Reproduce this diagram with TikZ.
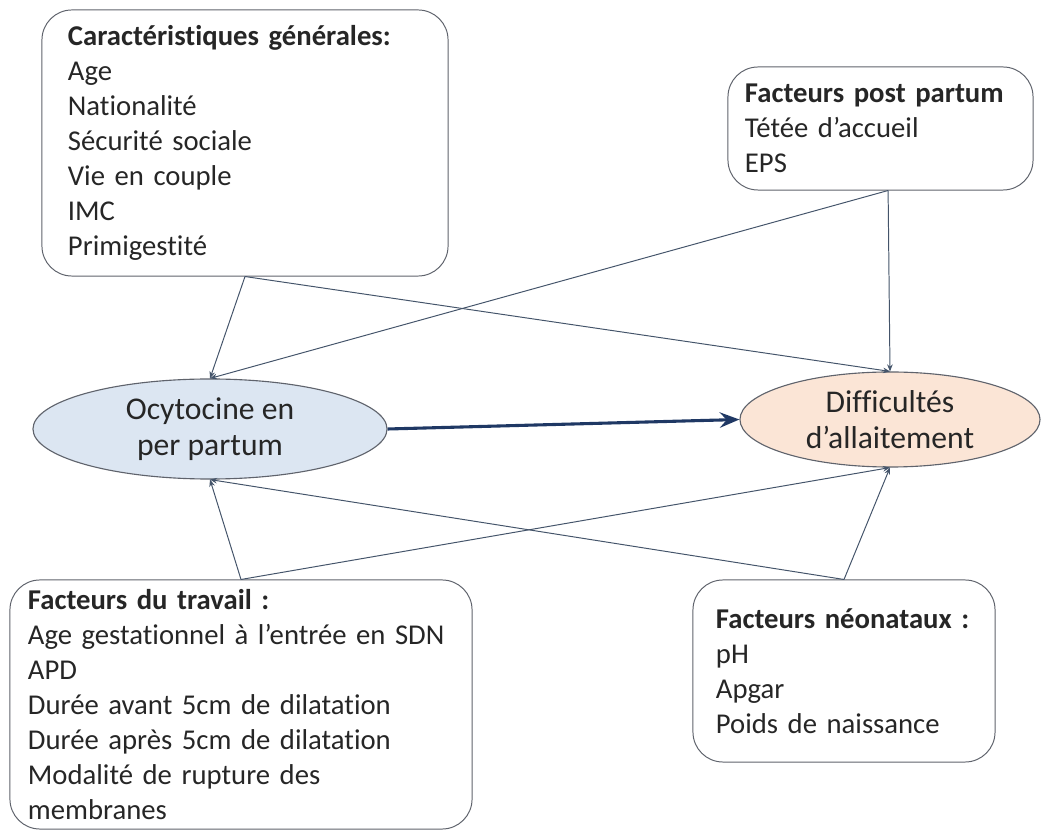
\documentclass[tikz,border=0pt]{standalone}
\usepackage{fontspec}
\setmainfont{Carlito}[Ligatures={NoCommon}]
\usepackage{tikz}
\usetikzlibrary{shapes.geometric, arrows.meta, positioning, calc}
\usepackage{xcolor}
\definecolor{ocyblue}{RGB}{220,230,242}
\definecolor{allpeach}{RGB}{251,229,214}
\definecolor{edgegray}{RGB}{95,99,108}
\definecolor{linkblue}{RGB}{68,84,106}
\definecolor{mainnavy}{RGB}{31,56,100}
\definecolor{txtdark}{RGB}{38,38,38}

\begin{document}
\begin{tikzpicture}[x=0.025cm, y=-0.025cm,
    facteur/.style={draw=edgegray, line width=0.7pt, rounded corners=0.75cm,
        align=left, inner xsep=0.575cm, text=txtdark,
        font=\fontsize{20.4}{24.9}\selectfont},
    critere/.style={ellipse, draw=edgegray, line width=0.8pt, align=center,
        inner sep=0pt, text=txtdark, font=\fontsize{22.5}{25.5}\selectfont},
    lien/.style={draw=linkblue, line width=0.7pt, -{Stealth[length=5pt, width=4pt]}},
    principal/.style={draw=mainnavy, line width=2.2pt, -{Stealth[length=14pt, width=11pt, inset=5pt]}}]
\useasboundingbox (0,0) rectangle (1041,832);

% Exposure and outcome
\node[critere, fill=ocyblue, minimum width=8.85cm, minimum height=2.5cm] (ocy) at (210,429) {Ocytocine en\\per partum};
\node[critere, fill=allpeach, minimum width=7.5cm, minimum height=2.375cm] (dif) at (890,419.5) {Difficultés\\d’allaitement};

% Confounder boxes
\node[facteur, inner xsep=0.65cm, text width=8.85cm, minimum height=6.65cm] (gen) at (245,143) {\textbf{Caractéristiques générales:}\\Age\\Nationalité\\Sécurité sociale\\Vie en couple\\IMC\\Primigestité};
\node[facteur, inner xsep=0.425cm, text width=6.775cm, minimum height=3.075cm] (post) at (880.5,128.5) {\textbf{Facteurs post partum}\\Tétée d’accueil\\EPS};
\node[facteur, inner xsep=0.45cm, text width=10.65cm, minimum height=6.225cm] (trav) at (241,704.5) {\textbf{Facteurs du travail :}\\Age gestationnel à l’entrée en SDN\\APD\\Durée avant 5cm de dilatation\\Durée après 5cm de dilatation\\Modalité de rupture des\\membranes};
\node[facteur, text width=6.4cm, minimum height=4.55cm] (neo) at (844,671) {\textbf{Facteurs néonataux :}\\pH\\Apgar\\Poids de naissance};

% Main association
\draw[principal] (ocy.east) -- (dif.west);

% Links from each box to both ellipses
\draw[lien] (gen.south) -- (ocy.north);
\draw[lien] (gen.south) -- (dif.north);
\draw[lien] ([xshift=0.19cm]post.south) -- (dif.north);
\draw[lien] ([xshift=0.19cm]post.south) -- (ocy.north);
\draw[lien] (trav.north) -- (ocy.south);
\draw[lien] (trav.north) -- (dif.south);
\draw[lien] (neo.north) -- (dif.south);
\draw[lien] (neo.north) -- (ocy.south);

\end{tikzpicture}
\end{document}
